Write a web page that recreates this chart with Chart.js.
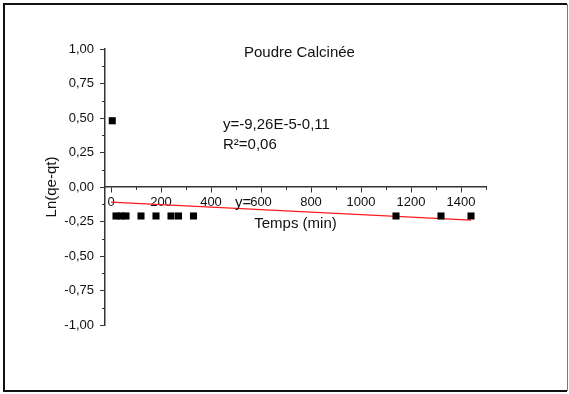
<!DOCTYPE html>
<html>
<head>
<meta charset="utf-8">
<script src="https://cdn.jsdelivr.net/npm/chart.js@4/dist/chart.umd.min.js"></script>
<style>
  html, body { margin: 0; padding: 0; background: #fff; }
  canvas { display: block; }
</style>
</head>
<body>
<canvas id="kineticChart" width="569" height="394"></canvas>
<script>
// measured points: time (min) vs Ln(qe-qt)
const times = [5, 20, 40, 60, 120, 180, 240, 270, 330, 1140, 1320, 1440];
const lnValues = [0.48, -0.21, -0.21, -0.21, -0.21, -0.21, -0.21, -0.21, -0.21, -0.21, -0.21, -0.21];

// linear fit drawn as a red line (ends)
const fitTimes = [0, 1440];
const fitValues = [-0.11, -0.24];

const xTicks = [0, 200, 400, 600, 800, 1000, 1200, 1400];
const yTicks = [-1, -0.75, -0.5, -0.25, 0, 0.25, 0.5, 0.75, 1];

const chartTitle = 'Poudre Calcinée';
const equationText = 'y=-9,26E-5-0,11';
const r2Text = 'R²=0,06';
const strayText = 'y=';

const FONT = "'Liberation Sans', Arial, sans-serif";

const frameAndText = {
    id: 'frameAndText',
    beforeDraw(chart) {
        const ctx = chart.ctx;
        ctx.save();
        ctx.fillStyle = '#fff';
        ctx.fillRect(0, 0, chart.width, chart.height);
        ctx.restore();
    },
    afterDraw(chart) {
        const ctx = chart.ctx;
        const x = chart.scales.x;
        const y = chart.scales.y;
        ctx.save();

        // outer frame
        ctx.strokeStyle = '#111';
        ctx.lineWidth = 2;
        ctx.beginPath();
        ctx.moveTo(567, 4);
        ctx.lineTo(4, 4);
        ctx.lineTo(4, 391);
        ctx.lineTo(567, 391);
        ctx.stroke();
        ctx.strokeStyle = '#777';
        ctx.lineWidth = 1;
        ctx.beginPath();
        ctx.moveTo(567.5, 4);
        ctx.lineTo(567.5, 391);
        ctx.stroke();

        // minor ticks
        ctx.strokeStyle = '#333';
        ctx.lineWidth = 1;
        const y0 = y.getPixelForValue(0);
        ctx.beginPath();
        for (let v = 100; v <= 1500; v += 200) {
            const px = Math.round(x.getPixelForValue(v)) + 0.5;
            ctx.moveTo(px, y0);
            ctx.lineTo(px, y0 + 3);
        }
        for (let v = -0.875; v < 1; v += 0.25) {
            const py = Math.round(y.getPixelForValue(v)) + 0.5;
            ctx.moveTo(x.left, py);
            ctx.lineTo(x.left - 3, py);
        }
        ctx.stroke();

        // labels
        ctx.fillStyle = '#111';
        ctx.font = '15px ' + FONT;
        ctx.textAlign = 'left';
        ctx.textBaseline = 'middle';
        ctx.fillText(chartTitle, 244, 53);
        ctx.fillText(equationText, 223, 125);
        ctx.fillText(r2Text, 223, 145);
        ctx.fillText(strayText, 235, 203);
        ctx.restore();
    }
};

new Chart(document.getElementById('kineticChart'), {
    type: 'scatter',
    data: {
        datasets: [{
            label: 'Ln(qe-qt)',
            data: times.map((t, i) => ({ x: t, y: lnValues[i] })),
            pointStyle: 'rect',
            pointRadius: 5,
            backgroundColor: '#000',
            borderWidth: 0
        }, {
            label: 'fit',
            data: fitTimes.map((t, i) => ({ x: t, y: fitValues[i] })),
            showLine: true,
            borderColor: '#ff1a1a',
            borderWidth: 1.2,
            pointRadius: 0
        }]
    },
    options: {
        responsive: false,
        animation: false,
        layout: { padding: { left: 0, right: 83, top: 49, bottom: 69 } },
        plugins: {
            legend: { display: false },
            tooltip: { enabled: false }
        },
        scales: {
            x: {
                type: 'linear',
                min: -24,
                max: 1500,
                position: { y: 0 },
                afterBuildTicks: s => { s.ticks = xTicks.map(v => ({ value: v })); },
                grid: { drawOnChartArea: false, tickLength: 5, tickColor: '#333', tickWidth: 1 },
                border: { color: '#333', width: 1.5 },
                ticks: {
                    padding: 3,
                    color: '#111',
                    font: { family: FONT, size: 13 },
                    callback: v => String(v)
                },
                title: {
                    display: true,
                    text: 'Temps (min)',
                    color: '#111',
                    font: { family: FONT, size: 15 },
                    padding: { top: 1, bottom: 0 }
                }
            },
            y: {
                type: 'linear',
                min: -1,
                max: 1,
                afterBuildTicks: s => { s.ticks = yTicks.map(v => ({ value: v })); },
                afterFit: s => { s.width = 105; },
                grid: { drawOnChartArea: false, tickLength: 5, tickColor: '#333', tickWidth: 1 },
                border: { color: '#333', width: 1.5 },
                ticks: {
                    padding: 6,
                    color: '#111',
                    font: { family: FONT, size: 13 },
                    callback: v => v.toFixed(2).replace('.', ',')
                },
                title: {
                    display: true,
                    text: 'Ln(qe-qt)',
                    color: '#111',
                    font: { family: FONT, size: 15 },
                    padding: { top: 43, bottom: 0 }
                }
            }
        }
    },
    plugins: [frameAndText]
});
</script>
</body>
</html>
